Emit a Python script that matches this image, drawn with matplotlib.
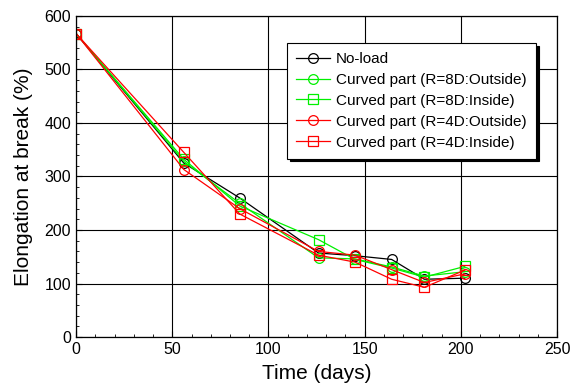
import matplotlib
matplotlib.use("Agg")
import matplotlib.pyplot as plt
from matplotlib.ticker import MultipleLocator

plt.rcParams['font.family'] = ['Liberation Sans', 'DejaVu Sans']

# Exposure time (days)
days = [0, 56, 85, 126, 145, 164, 181, 202]

# Elongation at break (%) for each specimen group
no_load = [567, 325, 260, 157, 152, 145, 108, 110]
r8_outside = [567, 328, 250, 148, 146, 131, 114, 122]
r8_inside = [567, 332, 245, 182, 145, 129, 112, 132]
r4_outside = [567, 313, 240, 160, 153, 126, 102, 118]
r4_inside = [567, 345, 230, 153, 140, 108, 93, 125]

series = [
    ("No-load", no_load, "black", "o"),
    ("Curved part (R=8D:Outside)", r8_outside, "#00f000", "o"),
    ("Curved part (R=8D:Inside)", r8_inside, "#00f000", "s"),
    ("Curved part (R=4D:Outside)", r4_outside, "red", "o"),
    ("Curved part (R=4D:Inside)", r4_inside, "red", "s"),
]

fig = plt.figure(figsize=(5.72, 3.87), dpi=100)
ax = fig.add_axes([0.133, 0.129, 0.841, 0.830])

for label, vals, color, marker in series:
    ax.plot(days, vals, color=color, lw=0.9, marker=marker, ms=7,
            mfc='none', mec=color, mew=0.9, label=label)

ax.set_xlim(0, 250)
ax.set_ylim(0, 600)
ax.xaxis.set_major_locator(MultipleLocator(50))
ax.xaxis.set_minor_locator(MultipleLocator(10))
ax.yaxis.set_major_locator(MultipleLocator(100))
ax.yaxis.set_minor_locator(MultipleLocator(20))
ax.tick_params(which='both', direction='in', top=False, right=False,
               labelsize=11.5)
ax.tick_params(which='major', length=4)
ax.tick_params(which='minor', length=2)
ax.grid(True, which='major', color='black', lw=0.8)
for s in ax.spines.values():
    s.set_linewidth(0.9)

ax.set_xlabel("Time (days)", fontsize=15, labelpad=5)
ax.set_ylabel("Elongation at break (%)", fontsize=15, labelpad=8)

leg = ax.legend(loc='upper left', bbox_to_anchor=(0.439, 0.916),
                borderaxespad=0, fontsize=11, frameon=True, fancybox=False,
                shadow={'color': 'black', 'alpha': 1}, framealpha=1,
                edgecolor='black', handlelength=2.2, handletextpad=0.4,
                labelspacing=0.45, borderpad=0.6)
leg.get_frame().set_linewidth(0.8)

fig.savefig("out.png", dpi=100)
